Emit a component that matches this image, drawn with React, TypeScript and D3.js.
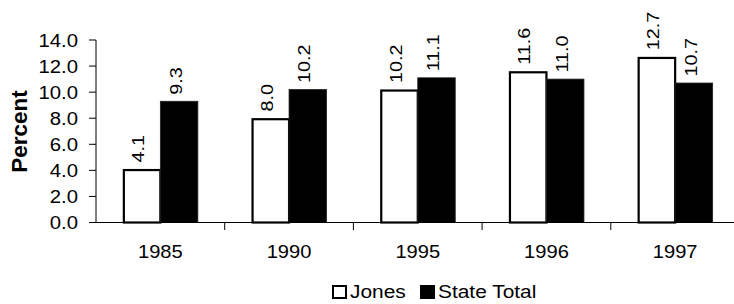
import React from "react";
import * as d3 from "d3";

const categories = ["1985", "1990", "1995", "1996", "1997"];
const seriesNames = ["Jones", "State Total"];
const jones = [4.1, 8.0, 10.2, 11.6, 12.7];
const stateTotal = [9.3, 10.2, 11.1, 11.0, 10.7];
const yTicks = [0, 2, 4, 6, 8, 10, 12, 14];

const W = 734;
const H = 304;
const FONT = "'Liberation Sans', Arial, Helvetica, sans-serif";

export default function App() {
  const x0 = 96;
  const bandW = 128.7;
  const x = d3.scaleBand<string>().domain(categories).range([x0, x0 + bandW * categories.length]).padding(0);
  const groupW = 75;
  const xs = d3
    .scaleBand<string>()
    .domain(seriesNames)
    .range([(x.bandwidth() - groupW) / 2, (x.bandwidth() + groupW) / 2])
    .padding(0);
  const y = d3.scaleLinear().domain([0, 14]).range([222.5, 40]);
  const values = [jones, stateTotal];

  return (
    <svg width={W} height={H} style={{ position: "absolute", left: 0, top: 0, background: "#fff" }} fontFamily={FONT}>
      {/* bars */}
      {categories.map((c, i) =>
        seriesNames.map((s, j) => {
          const v = values[j][i];
          const bx = (x(c) as number) + (xs(s) as number);
          const bw = xs.bandwidth();
          const top = y(v);
          return (
            <g key={c + s}>
              <rect
                x={bx + (j === 0 ? 1 : 0)}
                y={top + (j === 0 ? 1 : 0)}
                width={bw - (j === 0 ? 1 : 0)}
                height={y(0) - top - (j === 0 ? 1 : 0)}
                fill={j === 0 ? "#fff" : "#000"}
                stroke={j === 0 ? "#000" : "#222"}
                strokeWidth={j === 0 ? 2.2 : 0.8}
              />
              <text
                transform={`translate(${bx + bw / 2 + 2.6},${top - 6.6}) rotate(-90) scale(1.2,1)`}
                fontSize={16.5}
                textAnchor="start"
                fill="#000"
              >
                {v.toFixed(1)}
              </text>
            </g>
          );
        })
      )}

      {/* y axis */}
      <line x1={x0} x2={x0} y1={y(14)} y2={y(0)} stroke="#000" strokeWidth={1} />
      {yTicks.map((t) => (
        <g key={t}>
          <line x1={x0 - 7} x2={x0} y1={y(t)} y2={y(t)} stroke="#000" strokeWidth={1} />
          <text transform={`translate(78,${y(t) + 6.5}) scale(1.13,1)`} fontSize={18} textAnchor="end" fill="#000">
            {t.toFixed(1)}
          </text>
        </g>
      ))}

      {/* x axis */}
      <line x1={x0} x2={x0 + bandW * categories.length} y1={y(0)} y2={y(0)} stroke="#000" strokeWidth={1} />
      {categories.map((c, i) => (
        <g key={c}>
          {i > 0 && (
            <line x1={x(c) as number} x2={x(c) as number} y1={y(0)} y2={y(0) + 7.5} stroke="#000" strokeWidth={1} />
          )}
          <text
            transform={`translate(${(x(c) as number) + x.bandwidth() / 2},258) scale(1.15,1)`}
            fontSize={17.5}
            textAnchor="middle"
            fill="#000"
          >
            {c}
          </text>
        </g>
      ))}

      {/* y axis title */}
      <text
        transform="translate(26.5,131.5) rotate(-90)"
        fontSize={22.5}
        fontWeight="bold"
        textAnchor="middle"
        fill="#000"
      >
        Percent
      </text>

      {/* legend */}
      <rect x={333} y={286} width={13} height={12} fill="#fff" stroke="#000" strokeWidth={2} />
      <text transform="translate(350,298.3) scale(1.13,1)" fontSize={18.5} fill="#000">
        {seriesNames[0]}
      </text>
      <rect x={420} y={285} width={15} height={14} fill="#000" />
      <text transform="translate(438,298.3) scale(1.13,1)" fontSize={18.5} fill="#000">
        {seriesNames[1]}
      </text>
    </svg>
  );
}
